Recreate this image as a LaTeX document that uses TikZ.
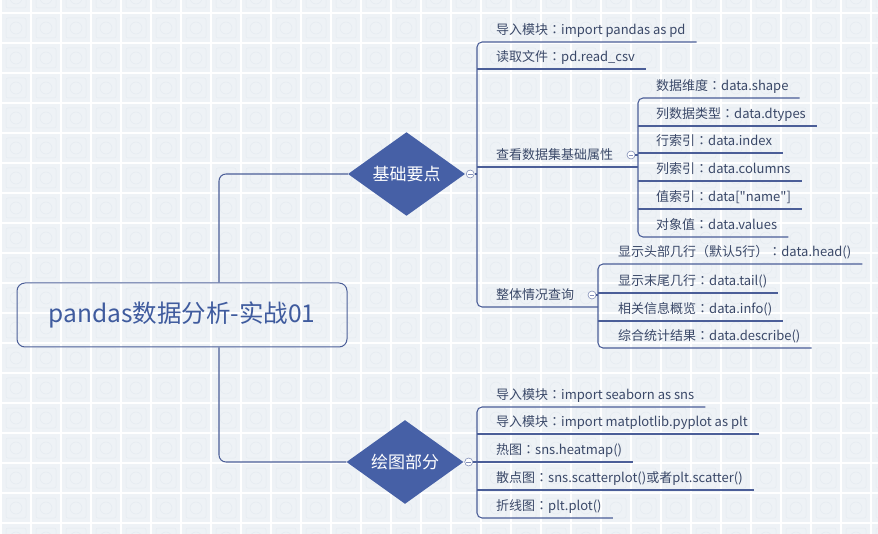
\documentclass[tikz,border=0pt]{standalone}
\usepackage{fontspec}
\setmainfont{Noto Sans CJK SC}[Ligatures=TeXOff]
\newfontfamily\punct{Noto Sans CJK TC}
\newcommand{\cc}{{\punct ：}}
\newcommand{\lpar}{{\punct （}}
\newcommand{\rpar}{{\punct ）}}
\usetikzlibrary{shapes.geometric,calc}
\definecolor{bg}{HTML}{EEF2F6}
\definecolor{tile}{HTML}{E4EAF0}
\definecolor{lnc}{HTML}{4B5E98}
\definecolor{dia}{HTML}{4660A6}
\definecolor{txt}{HTML}{3A4868}
\definecolor{roottxt}{HTML}{3F5B9E}
\begin{document}
\begin{tikzpicture}[x=1pt,y=-1pt,
  conn/.style={draw=lnc,line width=1.05pt,rounded corners=5pt},
  leaf/.style={anchor=south west,inner sep=0pt,text depth=7pt,font=\fontsize{13}{15}\selectfont,text=txt},
  hub/.style={diamond,fill=dia,draw=none,minimum width=117pt,minimum height=72pt,inner sep=0pt,text=white,font=\fontsize{17}{20}\selectfont},
  fold/.style={circle,draw=lnc!70,fill=white,line width=0.6pt,minimum size=8pt,inner sep=0pt,
    path picture={\draw[lnc!70,line width=0.6pt] ([xshift=-2.3pt]path picture bounding box.center) -- ([xshift=2.3pt]path picture bounding box.center);}},
  rootbox/.style={draw=lnc,line width=1pt,rounded corners=8pt,minimum width=330pt,minimum height=64pt,inner sep=0pt,text=roottxt,font=\fontsize{24.5}{29}\selectfont}]
\useasboundingbox (0,0) rectangle (878,534);
% background tiles
\fill[bg] (0,0) rectangle (878,534);
\foreach \i in {0,...,29}{\foreach \j in {0,...,18}{
  \draw[tile,line width=0.5pt,rounded corners=2pt] ({\i*30+6},{\j*30-12}) rectangle +(20,20);
  \draw[tile,line width=0.5pt] ({\i*30+16},{\j*30-2}) circle (6);
}}
\foreach \i in {0,...,30}{\draw[white,line width=1.6pt] ({\i*30+1},0) -- ({\i*30+1},534);}
\foreach \j in {0,...,18}{\draw[white,line width=1.6pt] (0,{\j*30+13}) -- (878,{\j*30+13});}

% trunk coordinates
\coordinate (trk) at (219,315);
\coordinate (brA) at (477,0);
\coordinate (brB) at (638,0);
\coordinate (brC) at (598,0);

% main nodes
\node[rootbox] (root) at (182,315) {pandas数据分析-实战01};
\node[hub] (h1) at (406.5,174) {基础要点};
\node[hub] (h2) at (405,462) {绘图部分};

% group A
\node[leaf] (a1) at (496,42) {导入模块\cc import pandas as pd};
\node[leaf] (a2) at (496,69) {读取文件\cc pd.read\_csv};
\node[leaf] (a3) at (496,167) {查看数据集基础属性};
\node[leaf] (a4) at (496,307) {整体情况查询};
% group B
\node[leaf] (b1) at (656,98) {数据维度\cc data.shape};
\node[leaf] (b2) at (656,126) {列数据类型\cc data.dtypes};
\node[leaf] (b3) at (656,153) {行索引\cc data.index};
\node[leaf] (b4) at (656,181) {列索引\cc data.columns};
\node[leaf] (b5) at (656,209) {值索引\cc data["name"]};
\node[leaf] (b6) at (656,237) {对象值\cc data.values};
% group C
\node[leaf] (c1) at (618,264) {显示头部几行\lpar 默认5行\rpar\cc data.head()};
\node[leaf] (c2) at (618,293) {显示末尾几行\cc data.tail()};
\node[leaf] (c3) at (618,321) {相关信息概览\cc data.info()};
\node[leaf] (c4) at (618,348) {综合统计结果\cc data.describe()};
% group D
\node[leaf] (d1) at (496,407) {导入模块\cc import seaborn as sns};
\node[leaf] (d2) at (496,434) {导入模块\cc import matplotlib.pyplot as plt};
\node[leaf] (d3) at (496,462) {热图\cc sns.heatmap()};
\node[leaf] (d4) at (496,490) {散点图\cc sns.scatterplot()或者plt.scatter()};
\node[leaf] (d5) at (496,518) {折线图\cc plt.plot()};

% trunk connectors
\draw[conn,rounded corners=7pt] (root.north -| trk) |- (h1.west);
\draw[conn,rounded corners=7pt] (root.south -| trk) |- (h2.west);

% group A bracket
\draw[conn] ([xshift=11pt]a1.south east) -- (a1.south west -| brA) -- (a4.south west -| brA) -- (a4.south west -| brC);
\draw[conn] (a2.south west -| brA) -- ([xshift=11pt]a2.south east);
\draw[conn] (a3.south west -| brA) -- (a3.south west -| brB);
\node[fold] (f1) at ($(h1.east)+(5,0)$) {};
\draw[conn] (f1.east) -- (f1 -| brA);

% group B bracket
\draw[conn] ([xshift=11pt]b1.south east) -- (b1.south west -| brB) -- (b6.south west -| brB) -- ([xshift=11pt]b6.south east);
\foreach \n in {b2,b3,b4,b5}{\draw[conn] (\n.south west -| brB) -- ([xshift=11pt]\n.south east);}
\node[fold] (f3) at ($(a3.south west -| brB)+(-7,-12)$) {};
\draw[conn] (f3.east) -- (f3 -| brB);

% group C bracket
\draw[conn] ([xshift=11pt]c1.south east) -- (c1.south west -| brC) -- (c4.south west -| brC) -- ([xshift=11pt]c4.south east);
\foreach \n in {c2,c3}{\draw[conn] (\n.south west -| brC) -- ([xshift=11pt]\n.south east);}
\node[fold] (f4) at ($(a4.south west -| brC)+(-6,-12)$) {};
\draw[conn] (f4.east) -- (f4 -| brC);

% group D bracket
\draw[conn] ([xshift=11pt]d1.south east) -- (d1.south west -| brA) -- (d5.south west -| brA) -- ([xshift=11pt]d5.south east);
\foreach \n in {d2,d3,d4}{\draw[conn] (\n.south west -| brA) -- ([xshift=11pt]\n.south east);}
\node[fold] (f2) at ($(h2.east)+(5,0)$) {};
\draw[conn] (f2.east) -- (f2 -| brA);
\end{tikzpicture}
\end{document}
